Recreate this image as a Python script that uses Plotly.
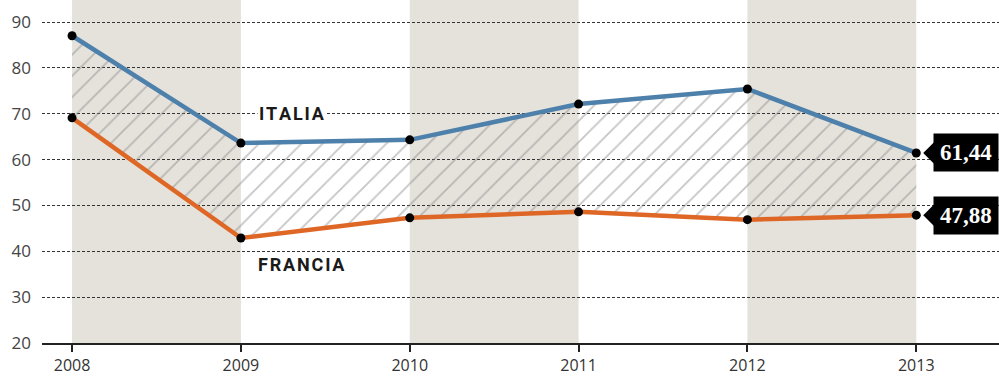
import plotly.graph_objects as go

# Series values by year
years = [2008, 2009, 2010, 2011, 2012, 2013]
italia = [87.0, 63.6, 64.3, 72.1, 75.4, 61.44]
francia = [69.1, 42.9, 47.3, 48.6, 46.9, 47.88]
y_ticks = [20, 30, 40, 50, 60, 70, 80, 90]
shaded_years = [(2008, 2009), (2010, 2011), (2012, 2013)]

BLUE = "#4d80aa"
ORANGE = "#de6726"
BAND = "#e5e1db"

fig = go.Figure()

# France (bottom line) first so Italy can fill down to it
fig.add_trace(go.Scatter(
    x=years, y=francia, mode="lines+markers",
    line=dict(color=ORANGE, width=4.5),
    marker=dict(color="black", size=9),
    hoverinfo="skip", showlegend=False,
))
fig.add_trace(go.Scatter(
    x=years, y=italia, mode="lines+markers",
    line=dict(color=BLUE, width=4.5),
    marker=dict(color="black", size=9),
    fill="tonexty",
    fillcolor="rgba(0,0,0,0)",
    fillpattern=dict(shape="/", size=15, solidity=0.12,
                     fgcolor="#8c8c8c", bgcolor="rgba(0,0,0,0)"),
    hoverinfo="skip", showlegend=False,
))

shapes = []
for x0, x1 in shaded_years:
    shapes.append(dict(type="rect", xref="x", yref="paper", x0=x0, x1=x1, y0=0, y1=1,
                       fillcolor=BAND, line=dict(width=0), layer="below"))

annotations = []
# Black value callouts at the last point
for series in (italia, francia):
    v = series[-1]
    shapes.append(dict(type="path", xref="x", yref="y", xsizemode="pixel", ysizemode="pixel",
                       xanchor=years[-1], yanchor=v,
                       path="M 7,0 L 18,-11 L 18,11 Z",
                       fillcolor="black", line=dict(width=0), layer="above"))
    annotations.append(dict(
        x=years[-1], y=v, xref="x", yref="y", xanchor="left", yanchor="middle",
        xshift=17, showarrow=False,
        text="<b>" + f"{v:.2f}".replace(".", ",") + "</b>",
        font=dict(family="Liberation Serif, serif", size=23, color="white"),
        bgcolor="black", borderpad=6, align="left",
    ))

# Series names
label_font = dict(family="Roboto, Open Sans, sans-serif", size=18, color="#1a1a1a")
annotations.append(dict(x=2009.3, y=70, xref="x", yref="y", showarrow=False,
                        text="<b>I\u200aT\u200aA\u200aL\u200aI\u200aA</b>", bgcolor="white",
                        font=label_font))
annotations.append(dict(x=2009.36, y=37.2, xref="x", yref="y", showarrow=False,
                        text="<b>F\u200aR\u200aA\u200aN\u200aC\u200aI\u200aA</b>", bgcolor="white",
                        font=label_font))

fig.update_layout(
    width=999, height=380,
    margin=dict(l=42, r=0, t=0, b=37),
    paper_bgcolor="white", plot_bgcolor="white",
    shapes=shapes, annotations=annotations,
    xaxis=dict(
        range=[2007.822, 2013.49], tickvals=years, ticktext=[str(y) for y in years],
        showgrid=False, zeroline=False,
        showline=True, linecolor="#222", linewidth=2,
        ticks="outside", ticklen=7, tickwidth=2, tickcolor="#222",
        tickfont=dict(family="Open Sans, sans-serif", size=16, color="#333"),
    ),
    yaxis=dict(
        range=[20, 94.8], tickvals=y_ticks,
        showgrid=True, gridcolor="#333", gridwidth=1, griddash="3px,2px",
        zeroline=False, showline=False, ticks="",
        ticklabelstandoff=10,
        tickfont=dict(family="Open Sans, sans-serif", size=17, color="#444"),
    ),
)

fig.write_html("out.html")
